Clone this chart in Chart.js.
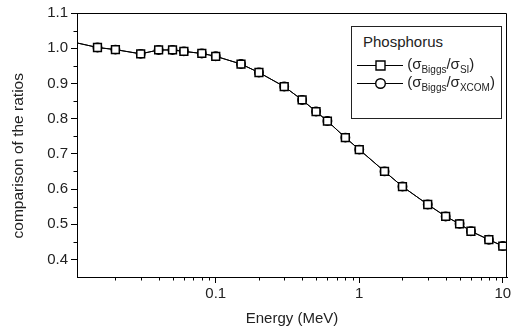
<!DOCTYPE html>
<html>
<head>
<meta charset="utf-8">
<script src="https://cdn.jsdelivr.net/npm/chart.js@4.4.0/dist/chart.umd.min.js"></script>
<style>
  body { margin: 0; background: #fff; }
  #wrap { position: relative; width: 514px; height: 331px; }
  #legend {
    position: absolute; left: 351px; top: 26px; width: 151px; height: 93px;
    border: 1px solid #222; box-sizing: border-box; background: #fff;
    font-family: "Liberation Sans", Arial, sans-serif; color: #222;
  }
  #legend .ttl { position: absolute; left: 11px; top: 6px; font-size: 15px; }
  #legend .row { position: absolute; left: 5px; font-size: 15px; white-space: nowrap; height: 18px; }
  #legend .row sub { font-size: 10px; vertical-align: -4px; }
  #legend canvas { vertical-align: -3px; }
</style>
</head>
<body>
<div id="wrap">
  <canvas id="myChart" width="514" height="331"></canvas>
  <div id="legend">
    <div class="ttl">Phosphorus</div>
    <div class="row" style="top:28px"><canvas id="lg1" width="46" height="14"></canvas> (σ<sub>Biggs</sub>/σ<sub>SI</sub>)</div>
    <div class="row" style="top:46px"><canvas id="lg2" width="46" height="14"></canvas> (σ<sub>Biggs</sub>/σ<sub>XCOM</sub>)</div>
  </div>
</div>
<script>
  // energies in MeV
  const energy = [0.01, 0.015, 0.02, 0.03, 0.04, 0.05, 0.06, 0.08, 0.1, 0.15, 0.2, 0.3, 0.4, 0.5, 0.6, 0.8, 1, 1.5, 2, 3, 4, 5, 6, 8, 10]
  const ratioSI = [1.018, 1.002, 0.996, 0.984, 0.995, 0.995, 0.991, 0.985, 0.977, 0.955, 0.931, 0.891, 0.853, 0.820, 0.793, 0.746, 0.712, 0.650, 0.607, 0.556, 0.522, 0.501, 0.480, 0.456, 0.438]
  const ratioXCOM = [1.018, 1.002, 0.996, 0.984, 0.995, 0.995, 0.991, 0.985, 0.977, 0.955, 0.931, 0.891, 0.853, 0.820, 0.793, 0.746, 0.712, 0.650, 0.607, 0.556, 0.522, 0.501, 0.480, 0.456, 0.438]
  const yMajor = [0.4, 0.5, 0.6, 0.7, 0.8, 0.9, 1.0, 1.1]
  const yMinor = [0.45, 0.55, 0.65, 0.75, 0.85, 0.95, 1.05]
  const xMajor = [0.1, 1, 10]
  const xMinor = [0.02, 0.03, 0.04, 0.05, 0.06, 0.07, 0.08, 0.09, 0.2, 0.3, 0.4, 0.5, 0.6, 0.7, 0.8, 0.9, 2, 3, 4, 5, 6, 7, 8, 9]

  const FONT = "'Liberation Sans', Arial, sans-serif"
  const TXT = "#222"

  // frame + minor ticks
  const extras = {
    id: "extras",
    afterDraw(c) {
      const ctx = c.ctx, a = c.chartArea
      const x = c.scales.x, y = c.scales.y
      ctx.save()
      ctx.strokeStyle = "#000"
      ctx.lineWidth = 1
      ctx.beginPath()
      ctx.moveTo(a.left, a.top + 0.5); ctx.lineTo(a.right - 0.5, a.top + 0.5); ctx.lineTo(a.right - 0.5, a.bottom)
      yMinor.forEach(v => {
        const py = Math.round(y.getPixelForValue(v)) + 0.5
        ctx.moveTo(a.left - 3.5, py); ctx.lineTo(a.left, py)
      })
      xMinor.forEach(v => {
        const px = Math.round(x.getPixelForValue(v)) + 0.5
        ctx.moveTo(px, a.bottom); ctx.lineTo(px, a.bottom + 3.5)
      })
      ctx.stroke()
      ctx.restore()
    }
  }

  const ctx = document.getElementById("myChart").getContext("2d")
  const chart = new Chart(ctx, {
    type: "line",
    data: {
      labels: energy,
      datasets: [
        {
          label: "SI",
          data: energy.map((e, i) => ({ x: e, y: ratioSI[i] })),
          borderColor: "#000", borderWidth: 1,
          pointStyle: "rect", pointRadius: 5.5,
          pointBackgroundColor: "#fff", pointBorderColor: "#000", pointBorderWidth: 1.5,
          tension: 0
        },
        {
          label: "XCOM",
          data: energy.map((e, i) => ({ x: e, y: ratioXCOM[i] })),
          borderColor: "#000", borderWidth: 1,
          pointStyle: "circle", pointRadius: 4.2,
          pointBackgroundColor: "#fff", pointBorderColor: "#000", pointBorderWidth: 1.5,
          tension: 0
        }
      ]
    },
    options: {
      responsive: false,
      animation: false,
      layout: { padding: { top: 13, right: 3, left: 0, bottom: 0 } },
      plugins: { legend: { display: false }, tooltip: { enabled: false } },
      scales: {
        x: {
          type: "logarithmic", min: 0.0108, max: 10.7,
          afterBuildTicks: s => { s.ticks = xMajor.map(v => ({ value: v })) },
          afterFit: s => { s.height = 54 },
          ticks: { color: TXT, font: { family: FONT, size: 15 }, padding: 2, maxRotation: 0,
            callback: v => String(v) },
          grid: { drawOnChartArea: false, tickLength: 6, color: "#000" },
          border: { color: "#000", width: 1 },
          title: { display: true, text: "Energy (MeV)", color: TXT, font: { family: FONT, size: 15 }, padding: { top: 0, bottom: 3 } }
        },
        y: {
          min: 0.35, max: 1.1,
          afterBuildTicks: s => { s.ticks = yMajor.map(v => ({ value: v })) },
          afterFit: s => { s.width = 77 },
          ticks: { color: TXT, font: { family: FONT, size: 15 }, padding: 3,
            callback: v => v.toFixed(1) },
          grid: { drawOnChartArea: false, tickLength: 6, color: "#000" },
          border: { color: "#000", width: 1 },
          title: { display: true, text: "comparison of the ratios     ", color: TXT, font: { family: FONT, size: 15.5 }, padding: { top: 9.5, bottom: 0 } }
        }
      }
    },
    plugins: [extras]
  })

  // legend sample symbols
  function drawSample(id, style) {
    const g = document.getElementById(id).getContext("2d")
    g.strokeStyle = "#000"; g.lineWidth = 1
    g.beginPath(); g.moveTo(0, 7.5); g.lineTo(46, 7.5); g.stroke()
    g.fillStyle = "#fff"; g.lineWidth = 1.4
    g.beginPath()
    if (style === "rect") g.rect(19, 3, 9, 9)
    else g.arc(23.5, 7.5, 4.8, 0, Math.PI * 2)
    g.fill(); g.stroke()
  }
  drawSample("lg1", "rect")
  drawSample("lg2", "circle")
</script>
</body>
</html>
